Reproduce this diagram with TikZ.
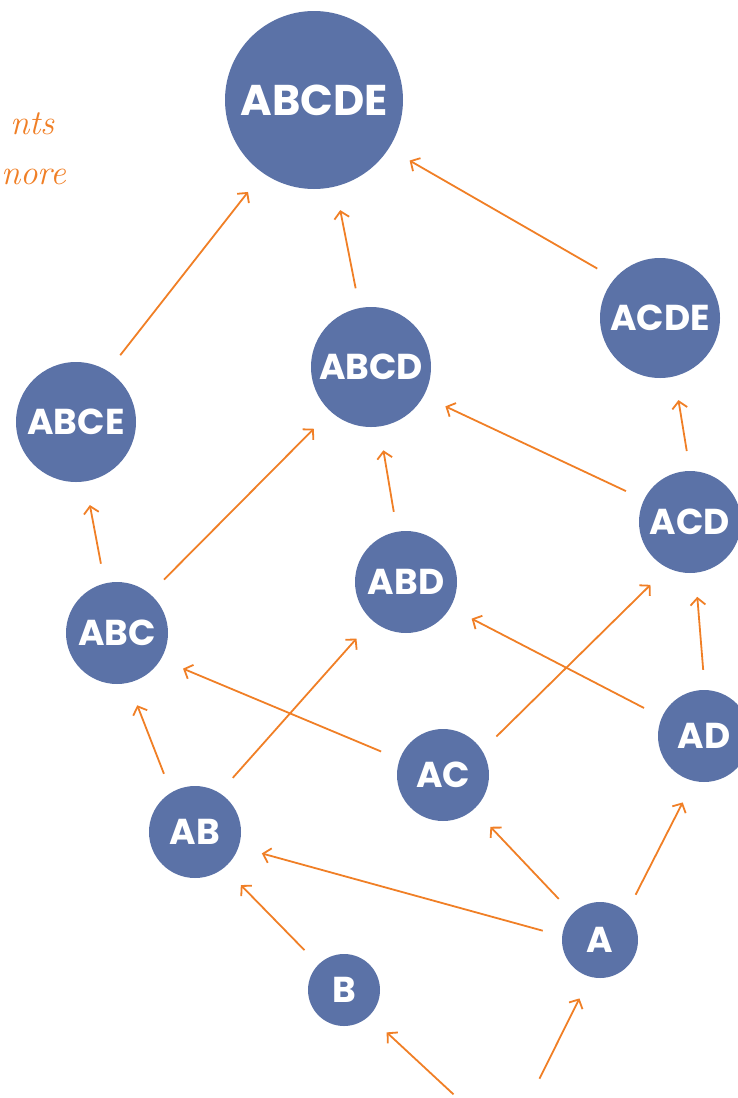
\documentclass[tikz,border=0pt]{standalone}
\usepackage{fontspec}
\newfontfamily\setfont{Poppins}
\usetikzlibrary{arrows.meta}
\definecolor{setblue}{HTML}{5B72A7}
\definecolor{linkorange}{HTML}{F07F26}
\tikzset{
	set/.style={circle, fill=setblue, text=white, inner sep=0pt, minimum size=#1,
		font=\setfont\bfseries\fontsize{36}{36}\selectfont},
	link/.style={draw=linkorange, line width=1.8pt, -{Straight Barb[length=7pt,width=15pt]},
		shorten <=20pt, shorten >=24pt},
	note/.style={text=linkorange, inner sep=0pt, font=\itshape\fontsize{35}{35}\selectfont}
}
\begin{document}
\begin{tikzpicture}[x=1pt,y=-1pt]
\useasboundingbox (0,0) rectangle (738,1098);
\clip (0,0) rectangle (738,1098);

\node[note, anchor=base east] (line1) at (55,134) {nts};
\node[note, anchor=base west] (line2) at (1,184) {nore};

% lattice of sets
\node[set=178pt, font=\setfont\bfseries\fontsize{43}{43}\selectfont] (abcde) at (314,100) {ABCDE};
\node[set=120pt] (abcd) at (371,367) {ABCD};
\node[set=120pt] (acde) at (660,318) {ACDE};
\node[set=120pt] (abce) at (76,422) {ABCE};
\node[set=102pt] (acd) at (690,522) {ACD};
\node[set=102pt] (abd) at (406,582) {ABD};
\node[set=102pt] (abc) at (117,633) {ABC};
\node[set=92pt] (ad) at (704,736) {AD};
\node[set=92pt] (ac) at (443,775) {AC};
\node[set=92pt] (ab) at (195,832) {AB};
\node[set=76pt] (a) at (600,940) {A};
\node[set=72pt] (b) at (344,990) {B};
\coordinate (empty) at (507,1144);

\foreach \from/\fa/\to/\ta in {abce/58/abcde/235, abcd/101/abcde/284, acde/139/abcde/327,
	abc/104/abce/279, abc/50/abcd/228, abd/100/abcd/278, acd/154/abcd/331,
	acd/90/acde/284, ab/121/abc/283, ab/58/abd/229, ac/160/abc/329,
	ac/32/acd/244, ad/156/abd/330, ad/89/acd/276, a/174/ab/341,
	a/136/ac/312, a/46/ad/257, b/135/ab/309}
	\draw[link] (\from.\fa) -- (\to.\ta);

\draw[link, shorten <=73pt] (empty) -- (b.314);
\draw[link, shorten <=73pt] (empty) -- (a.255);

\end{tikzpicture}
\end{document}
